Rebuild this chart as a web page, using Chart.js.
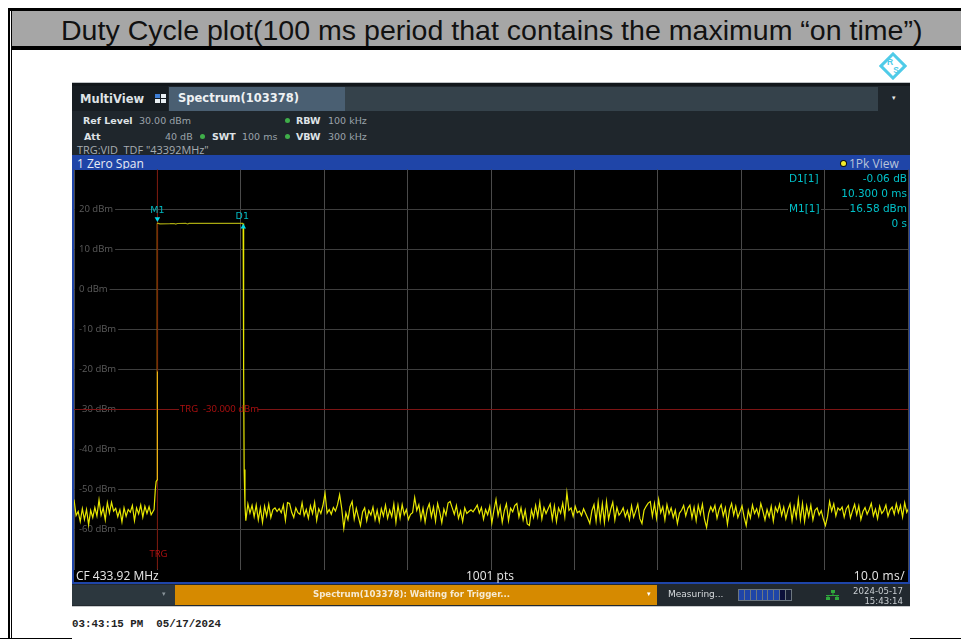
<!DOCTYPE html>
<html>
<head>
<meta charset="utf-8">
<title>Duty Cycle plot</title>
<script src="https://cdn.jsdelivr.net/npm/chart.js@4"></script>
<style>
html, body { margin: 0; padding: 0; background: #fff; }
body { position: relative; width: 961px; height: 639px; overflow: hidden; font-family: "DejaVu Sans", sans-serif; }
.box { position: absolute; }
.t { position: absolute; white-space: pre; line-height: 1; }
.info { font-size: 9.5px; color: #9aa3aa; }
.b { font-weight: bold; color: #dfe3e6; }
.dot { position: absolute; width: 5px; height: 5px; border-radius: 50%; background: #3fae49; }
.read { font-size: 10.5px; color: #00c0c8; background: #000; padding: 0 1px; }
.foot { font-family: "Open Sans", sans-serif; font-size: 12px; color: #e8e8e8; }
canvas { position: absolute; left: 73px; top: 169px; }
</style>
</head>
<body>
<!-- slide frame -->
<div class="box" style="left:8px;top:8px;width:953px;height:3px;background:#000"></div>
<div class="box" style="left:12px;top:11px;width:949px;height:35px;background:#a6a6a6"></div>
<div class="box" style="left:11px;top:46px;width:950px;height:4px;background:#000"></div>
<div class="box" style="left:8px;top:8px;width:2px;height:631px;background:#000"></div>
<div class="box" style="left:11px;top:11px;width:1px;height:628px;background:#000"></div>
<div class="box" style="left:0;top:638px;width:72px;height:1px;background:#000"></div>
<div class="box" style="left:910px;top:638px;width:51px;height:1px;background:#000"></div>
<div class="t" style="left:61px;top:14px;font:28.55px 'Liberation Sans',sans-serif;color:#111">Duty Cycle plot(100 ms period that contains the maximum “on time”)</div>

<!-- R&S logo -->
<svg class="box" style="left:879px;top:52px" width="28" height="28" viewBox="0 0 28 28">
<rect x="5.5" y="5.5" width="17" height="17" transform="rotate(45 14 14)" fill="none" stroke="#4fcbe8" stroke-width="3"/>
<text x="11" y="13" font-size="8.5" font-family="Liberation Sans" font-weight="bold" fill="#4fcbe8" text-anchor="middle">R</text>
<text x="17" y="21" font-size="8.5" font-family="Liberation Sans" font-weight="bold" fill="#4fcbe8" text-anchor="middle">S</text>
</svg>

<!-- instrument window -->
<div class="box" style="left:72px;top:82px;width:838px;height:1px;background:#bfc3c6"></div>
<div class="box" style="left:72px;top:83px;width:838px;height:3px;background:#12171b"></div>
<div class="box" style="left:72px;top:86px;width:838px;height:70px;background:#1f262c"></div>
<div class="box" style="left:72px;top:86px;width:96px;height:25px;background:#171d22"></div>
<div class="box" style="left:169px;top:87px;width:176px;height:24px;background:#4a5f72"></div>
<div class="box" style="left:345px;top:87px;width:533px;height:24px;background:#35424b"></div>
<div class="t b" style="left:80px;top:94px;font-size:11.5px">MultiView</div>
<svg class="box" style="left:155px;top:94px" width="12" height="9" viewBox="0 0 12 9">
<rect x="0" y="0" width="5" height="4" fill="#3f7fd6"/><rect x="6" y="0" width="5" height="4" fill="#e8eef2"/>
<rect x="0" y="5" width="5" height="4" fill="#e8eef2"/><rect x="6" y="5" width="5" height="4" fill="#e8eef2"/>
</svg>
<div class="t b" style="left:178px;top:93px;font-size:11.5px;color:#eef1f3">Spectrum(103378)</div>
<div class="t" style="left:892px;top:95px;font-size:7px;color:#e8e8e8">▾</div>

<div class="t info b" style="left:83px;top:116px">Ref Level</div>
<div class="t info" style="left:139px;top:116px">30.00 dBm</div>
<div class="dot" style="left:285px;top:118px"></div>
<div class="t info b" style="left:296px;top:116px">RBW</div>
<div class="t info" style="left:328px;top:116px">100 kHz</div>
<div class="t info b" style="left:84px;top:132px">Att</div>
<div class="t info" style="left:165px;top:132px">40 dB</div>
<div class="dot" style="left:200px;top:134px"></div>
<div class="t info b" style="left:212px;top:132px">SWT</div>
<div class="t info" style="left:242px;top:132px">100 ms</div>
<div class="dot" style="left:285px;top:134px"></div>
<div class="t info b" style="left:296px;top:132px">VBW</div>
<div class="t info" style="left:328px;top:132px">300 kHz</div>
<div class="t" style="left:77px;top:142px;font:10.9px 'Open Sans',sans-serif;color:#a7adb2">TRG:VID  TDF "43392MHz"</div>

<div class="box" style="left:72px;top:155px;width:838px;height:14px;background:#1f45a8"></div>
<div class="t" style="left:77px;top:155px;font:12px 'Open Sans',sans-serif;color:#e8ecf4">1 Zero Span</div>
<div class="dot" style="left:841px;top:161px;background:#f2ea2a;box-shadow:0 0 0 1px #111"></div>
<div class="t" style="left:849px;top:155px;font:12px 'Open Sans',sans-serif;color:#b9c4da">1Pk View</div>

<!-- black plot background with blue frame -->
<div class="box" style="left:72px;top:169px;width:838px;height:415px;background:#1f45a8"></div>
<div class="box" style="left:74px;top:170px;width:834px;height:412px;background:#000"></div>

<canvas id="trace" width="836" height="402"></canvas>

<div class="t read" style="left:788px;top:173px">D1[1]</div>
<div class="t read" style="right:53px;top:173px">-0.06 dB</div>
<div class="t read" style="right:53px;top:188px">10.300 0 ms</div>
<div class="t read" style="left:788px;top:203px">M1[1]</div>
<div class="t read" style="right:53px;top:203px">16.58 dBm</div>
<div class="t read" style="right:53px;top:218px">0 s</div>

<div class="t foot" style="left:76px;top:570px">CF 433.92 MHz</div>
<div class="t foot" style="left:466px;top:570px">1001 pts</div>
<div class="t foot" style="right:56px;top:570px;letter-spacing:0.4px">10.0 ms/</div>

<!-- status bar -->
<div class="box" style="left:72px;top:584px;width:838px;height:22px;background:#22292f"></div>
<div class="box" style="left:72px;top:606px;width:838px;height:1px;background:#c8cacc"></div>
<div class="box" style="left:72px;top:585px;width:103px;height:20px;background:#2c373e"></div>
<div class="box" style="left:175px;top:585px;width:482px;height:20px;background:#d68a00"></div>
<div class="t" style="left:162px;top:591px;font-size:7px;color:#8a949b">▾</div>
<div class="t" style="left:647px;top:591px;font-size:7px;color:#fff">▾</div>
<div class="t b" style="left:313px;top:590px;font-size:8.6px;color:#f6ead2;font-weight:bold">Spectrum(103378): Waiting for Trigger...</div>
<div class="t" style="left:668px;top:590px;font-size:9px;color:#d7dbde">Measuring...</div>
<div class="box" style="left:738px;top:589px;width:52px;height:10px;border:1px solid #6d7780;display:flex;gap:1px;background:#6d7780">
<i style="flex:1;background:#1f45a8"></i><i style="flex:1;background:#1f45a8"></i><i style="flex:1;background:#1f45a8"></i><i style="flex:1;background:#1f45a8"></i><i style="flex:1;background:#1f45a8"></i><i style="flex:1;background:#1f45a8"></i><i style="flex:1;background:#1f45a8"></i><i style="flex:1;background:#0b0f3a"></i><i style="flex:1;background:#161d35"></i>
</div>
<svg class="box" style="left:826px;top:589px" width="14" height="12" viewBox="0 0 14 12">
<rect x="5" y="1" width="4" height="3" fill="#2fa83c"/><rect x="0" y="8" width="4" height="3" fill="#2fa83c"/><rect x="9" y="8" width="4" height="3" fill="#2fa83c"/>
<path d="M0 6.5H13M7 4V6.5M2 6.5V8M11 6.5V8" stroke="#2fa83c" fill="none"/>
</svg>
<div class="t" style="right:58px;top:587px;font-size:8.6px;color:#c8cdd1">2024-05-17</div>
<div class="t" style="right:58px;top:597px;font-size:8.6px;color:#c8cdd1">15:43:14</div>

<div class="t" style="left:72px;top:618px;font:bold 10.8px 'Liberation Mono',monospace;color:#222">03:43:15 PM  05/17/2024</div>

<script>
// all times in ms, levels in dBm
const timeTicksMin = -10, timeTicksMax = 90;
const levelMin = -70, levelMax = 30;
const noiseStep = 0.25;

const noiseBeforeStart = -10;
const noiseBefore = [-52.5,-56.5,-55.5,-58,-54.8,-57.5,-55,-58.8,-55.2,-57,-54.5,-56.6,-52.6,-56.4,-54.6,-57.6,-53.3,-55.9,-53.2,-55.4,
    -54.7,-56.8,-55.1,-58.1,-54.6,-56.7,-55,-55.7,-54,-57.8,-54.6,-56.1,-53.9,-56.9,-54.2,-56,-54.3,-56.3];

// rising edge, top of the pulse and the falling edge
const pulseTimes = [-0.4, -0.25, -0.15, 0, 0, 0.3, 1.5, 2, 2.2, 2.4, 3.4, 3.6, 3.8, 5, 7.5, 10.28, 10.34, 10.4, 10.5];
const pulseLevels = [-55, -50, -48, -47.5, 16.58, 16.4, 16.45, 16.5, 16.35, 16.5, 16.55, 16.38, 16.52, 16.55, 16.55, 16.52, -20, -45, -54];
const edgeTimes = [0, 0];
const edgeLevels = [-47.5, -20.5];

const noiseAfterStart = 10.6;
const noiseAfter = [
    -57.8,-53.6,-55.9,-54,-56.8,-53.9,-57.6,-54.6,-58.2,-54.2,-56.6,-53.7,-57,-55,-54.6,-55.5,-54.8,-55.8,-53.9,-57.7,
    -53.3,-53.5,-55.7,-57,-54.6,-55.8,-56.2,-53.3,-56.5,-55,-57.2,-54.1,-56,-53.2,-57.7,-54.8,-56,-54,-50.9,-55.9,
    -55,-56.2,-54.5,-55.4,-53.8,-51.3,-54.8,-59.7,-55.8,-57.5,-54.3,-53,-57.4,-54.7,-56.9,-59,-55.6,-54.6,-57.8,-55.3,
    -56.4,-54.4,-57.6,-55.2,-58,-54.8,-56.6,-53.9,-57.2,-55.1,-56.8,-53.6,-58.2,-54,-57.1,-53.8,-56.3,-55,-57.5,-56.2,
    -55.8,-52,-55.2,-53.8,-57.4,-54.7,-58.1,-55,-53.6,-56.8,-54.4,-57.9,-53.5,-55.6,-58.3,-54.9,-56.4,-53.4,-53,-54.6,
    -56.2,-54,-57.2,-55.4,-58,-54.6,-56,-55.5,-55.1,-55.6,-54.8,-53.9,-55.9,-54.5,-57.4,-55,-56.3,-54.2,-58.4,-55.2,
    -52.5,-56.5,-54.2,-58.2,-55.3,-53.6,-57.8,-54.7,-55.6,-54,-53.5,-56.9,-54.6,-57.6,-55.2,-58.6,-59,-55.1,-57,-54,
    -56.8,-53.2,-57.4,-54.5,-56,-54.8,-53.6,-57.5,-54.1,-58,-54.6,-55.9,-53.4,-56.9,-50.8,-55.2,-54.6,-56.7,-54.2,-55.8,
    -55.4,-56.5,-54.8,-56,-57.2,-58.5,-55.3,-53.8,-57.9,-53.1,-57.8,-53.6,-58.2,-53,-57.4,-55,-53.2,-57.6,-54.5,-56.4,
    -55.7,-54.6,-56.8,-55.3,-57.5,-54.1,-56.9,-55.4,-53.7,-57.3,-58.5,-55.2,-54.2,-53.4,-53,-56.7,-53.5,-57.2,-52.5,-55.8,
    -54.3,-57.6,-53.8,-56.1,-54.6,-57,-55.2,-58.5,-55.9,-55.2,-54,-56.6,-54.7,-53.9,-57.1,-54.5,-57.8,-54,-56.2,-53.7,
    -57.4,-59.5,-56,-54.3,-55.5,-54,-57.2,-55,-53.8,-56.6,-54.6,-58.7,-55.1,-53.5,-56.4,-54.2,-57,-55.6,-54.1,-56.9,
    -59,-55.2,-57.1,-53.9,-56,-54.8,-56.7,-53.5,-55.4,-57.6,-55,-56.8,-54.2,-57.9,-54.4,-55.6,-53.7,-56.5,-54.4,-57.3,
    -55.1,-53.6,-57.8,-54.3,-56.9,-52.5,-57.5,-53.5,-58,-54.1,-56.7,-53.9,-57.6,-55.2,-54.6,-56.4,-55.3,-57.4,-59,-56.8,
    -53,-55.4,-53.6,-56.6,-54.6,-55.2,-54.4,-56.9,-54.8,-54,-57.1,-55.3,-53.7,-56.3,-54.1,-57.5,-55.5,-54.5,-56.2,-55,
    -53.5,-56.6,-54.9,-57.3,-54.2,-56,-55.3,-53.9,-56.7,-55.1,-54.4,-56.2,-53.6,-55.8,-54,-56.9,-53.3,-55.7,-54.6,-53.4,
    -55.2,-51.8,-56,-52.6,-55.4,-53.4,-57.2,-59.5
];

const triggerLevel = -30;
const triggerGapStart = 2.6, triggerGapEnd = 12;
const markerM1 = { time: 0, level: 16.58 };
const markerD1 = { time: 10.3, level: 16.52 };
const tickLabelHidden = [-70, 30];

function stepped(start, values) {
    return values.map(function(v, i) { return { x: start + i * noiseStep, y: v }; });
}

function paired(times, levels) {
    return times.map(function(t, i) { return { x: t, y: levels[i] }; });
}

// chart area has to fill the canvas, labels sit inside it
function noAxisRoom(scale) {
    scale.paddingLeft = scale.paddingRight = scale.paddingTop = scale.paddingBottom = 0;
}

// marker and trigger captions are tied to the scales
const captions = {
    id: 'captions',
    afterDatasetsDraw: function(chart) {
        const c = chart.ctx, x = chart.scales.x, y = chart.scales.y;
        c.save();
        c.textBaseline = 'middle';
        c.textAlign = 'center';
        c.font = '9.5px "DejaVu Sans"';
        c.fillStyle = '#00b8c0';
        c.fillText('M1', x.getPixelForValue(markerM1.time), y.getPixelForValue(markerM1.level) - 13);
        c.fillText('D1', x.getPixelForValue(markerD1.time) - 1, y.getPixelForValue(markerD1.level) - 6.5);
        c.fillStyle = '#b01010';
        c.font = '9.5px "Open Sans"';
        c.fillText('TRG', x.getPixelForValue(markerM1.time) + 1, y.getPixelForValue(-66.3));
        c.textAlign = 'left';
        c.fillText('TRG  -30.000 dBm', x.getPixelForValue(triggerGapStart) + 1, y.getPixelForValue(triggerLevel));
        c.restore();
    }
};

document.addEventListener("DOMContentLoaded", function() {
    const ctx = document.getElementById('trace');

    new Chart(ctx, {
        type: 'scatter',
        plugins: [captions],
        data: {
            datasets: [
                {
                    label: 'M1 trigger',
                    data: [{ x: 0, y: levelMin }, { x: 0, y: levelMax }],
                    showLine: true, borderColor: '#7a1408', borderWidth: 1, pointRadius: 0, order: 4
                },
                {
                    label: 'Trace',
                    data: stepped(noiseBeforeStart, noiseBefore)
                        .concat(paired(pulseTimes, pulseLevels))
                        .concat(stepped(noiseAfterStart, noiseAfter)),
                    showLine: true, borderColor: '#e8e800', borderWidth: 1.2, pointRadius: 0, order: 3,
                    segment: {
                        // top of the pulse is dimmer on the instrument
                        borderColor: function(c) {
                            return c.p0.parsed.y > 0 && c.p1.parsed.y > 0 ? '#a8a810' : undefined;
                        }
                    }
                },
                {
                    label: 'M1 line',
                    data: [{ x: 0, y: -20.5 }, { x: 0, y: 16.4 }],
                    showLine: true, borderColor: '#7a2a08', borderWidth: 1.4, pointRadius: 0, order: 2
                },
                {
                    label: 'Edge',
                    data: paired(edgeTimes, edgeLevels),
                    showLine: true, borderColor: '#f0a818', borderWidth: 1, pointRadius: 0, order: 2
                },
                {
                    label: 'Trigger level',
                    data: [{ x: timeTicksMin, y: triggerLevel }, { x: triggerGapStart, y: triggerLevel },
                        { x: null, y: null },
                        { x: triggerGapEnd, y: triggerLevel }, { x: timeTicksMax, y: triggerLevel }],
                    showLine: true, spanGaps: false, borderColor: '#7c1414', borderWidth: 1, pointRadius: 0, order: 2
                },
                {
                    label: 'Marker M1',
                    data: [{ x: markerM1.time, y: markerM1.level + 1.1 }],
                    pointStyle: 'triangle', rotation: 180, pointRadius: 3.2, borderWidth: 0,
                    backgroundColor: '#00d8e8', order: 1
                },
                {
                    label: 'Marker D1',
                    data: [{ x: markerD1.time, y: markerD1.level - 0.9 }],
                    pointStyle: 'triangle', pointRadius: 3.2, borderWidth: 0,
                    backgroundColor: '#00d8e8', order: 1
                }
            ]
        },
        options: {
            responsive: false,
            animation: false,
            layout: { autoPadding: false, padding: { left: 1, right: 1, top: 0.5, bottom: 1.5 } },
            scales: {
                x: {
                    type: 'linear',
                    min: timeTicksMin,
                    max: timeTicksMax,
                    afterFit: noAxisRoom,
                    ticks: { display: false, stepSize: 10 },
                    border: { display: false },
                    grid: { color: '#4a4a4a', drawTicks: false }
                },
                y: {
                    min: levelMin,
                    max: levelMax,
                    afterFit: function(scale) { scale.width = 0; noAxisRoom(scale); },
                    ticks: {
                        stepSize: 10,
                        mirror: true,
                        padding: 5,
                        color: '#5c5c5c',
                        font: { family: 'Open Sans', size: 9.5 },
                        showLabelBackdrop: true,
                        backdropColor: '#000',
                        backdropPadding: { left: 4, right: 2, top: 2, bottom: 2 },
                        callback: function(v) {
                            return tickLabelHidden.includes(v) ? null : v + ' dBm';
                        }
                    },
                    border: { display: false },
                    grid: {
                        drawTicks: false,
                        color: function(c) {
                            return c.tick && c.tick.value === triggerLevel ? 'transparent' : '#3e3e3e';
                        }
                    }
                }
            },
            plugins: {
                legend: { display: false },
                tooltip: { enabled: false }
            }
        }
    });
});
</script>
</body>
</html>
